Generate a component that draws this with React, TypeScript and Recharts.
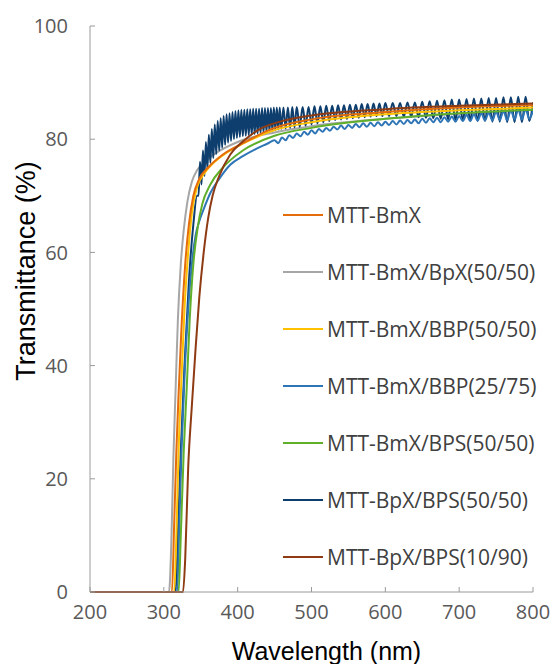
import React from 'react';
import { LineChart, Line, XAxis, YAxis, Legend } from 'recharts';

// wavelength (nm), transmittance (%)
const bmx = [
  [200, 0], [300, 0], [311, 0], [314, 12], [317, 25], [320, 35], [324, 47], [329, 58], [334, 65],
  [340, 70], [348, 73], [360, 75], [380, 77.3], [407, 79.3], [450, 82], [500, 83.5], [600, 84.8],
  [700, 85.6], [800, 86],
];

const bmxBpx5050 = [
  [200, 0], [300, 0], [307, 0], [310, 8], [313, 24], [316, 36], [319, 48], [323, 58], [327, 64],
  [332, 69], [338, 72.5], [345, 74.5], [355, 76], [370, 77.5], [400, 79.5], [450, 81.2], [500, 82.3],
  [600, 83.6], [700, 84.5], [800, 85.2],
];

const bmxBbp5050 = [
  [200, 0], [300, 0], [314, 0], [317, 10], [320, 25], [324, 38], [328, 50], [333, 60], [338, 67],
  [345, 71.5], [355, 74], [365, 75.5], [385, 77.6], [407, 79.2], [450, 81.6], [500, 83], [600, 84.4],
  [700, 85.1], [800, 85.6],
];

const bmxBbp2575 = [
  [200, 0], [300, 0], [318, 0], [321, 12], [324, 25], [328, 38], [333, 50], [338, 58], [343, 63],
  [348, 65.5], [355, 68], [363, 70.5], [375, 73], [390, 75.5], [407, 77], [425, 78.3], [440, 79.2],
  [450, 79.8], [455, 79.3], [460, 80.3], [465, 79.8], [470, 80.7], [475, 80.2], [480, 81], [485, 80.5],
  [490, 81.3], [495, 80.8], [500, 81.6], [505, 81], [510, 81.8], [515, 81.3], [520, 82], [525, 81.5],
  [530, 82.2], [535, 81.7], [540, 82.4], [545, 81.8], [550, 82.5], [555, 82], [560, 82.7], [565, 82.1],
  [570, 82.8], [575, 82.2], [580, 82.9], [585, 82.3], [590, 83], [595, 82.4], [600, 83.1], [605, 82.5],
  [610, 83.2], [615, 82.6], [620, 83.3], [625, 82.7], [630, 83.4], [635, 82.8], [640, 83.5], [645, 82.8],
  [650, 83.6], [655, 82.9], [660, 83.7], [665, 83], [670, 83.8], [675, 83], [680, 83.9], [685, 83.1],
  [690, 84], [695, 83.1], [700, 84.1], [705, 83.2], [710, 84.3], [715, 83.2], [720, 84.4], [725, 83.3],
  [730, 84.6], [735, 83.3], [740, 84.7], [745, 83.3], [750, 84.9], [755, 83.4], [760, 85], [765, 83.4],
  [770, 85.1], [775, 83.5], [780, 85.2], [785, 83.5], [790, 85.3], [795, 83.6], [800, 85],
];

const bmxBps5050 = [
  [200, 0], [300, 0], [320, 0], [323, 10], [327, 25], [331, 36], [335, 48], [340, 58], [346, 64.5],
  [352, 68.5], [363, 72], [380, 75], [407, 78], [450, 80.6], [500, 82], [600, 83.6], [700, 84.6],
  [800, 85.2],
];

// strong interference fringes
const bpxBps5050 = [
  [200, 0], [300, 0], [316, 0], [319, 10], [323, 25], [328, 40], [334, 55], [340, 65], [345, 70],
  [347, 70], [349, 76], [351, 72], [353, 78], [355, 73.5], [357, 79.5], [359, 74.8], [361, 80.8],
  [363, 75.8], [365, 81.8], [367, 76.7], [369, 82.6], [371, 77.4], [373, 83.2], [375, 78], [377, 83.7],
  [379, 78.5], [381, 84.1], [383, 79], [385, 84.4], [387, 79.4], [389, 84.6], [391, 79.7], [393, 84.8],
  [395, 80], [397, 85], [399, 80.2], [401, 85.1], [403, 80.4], [405, 85.2], [407, 80.5], [409, 85.2],
  [411, 80.6], [413, 85.3], [415, 80.7], [417, 85.3], [419, 80.8], [421, 85.4], [423, 80.9], [425, 85.4],
  [427, 81], [429, 85.4], [431, 81.1], [433, 85.5], [435, 81.2], [437, 85.5], [439, 81.3], [441, 85.5],
  [443, 81.4], [445, 85.5], [447, 81.5], [449, 85.6], [451, 81.6], [453, 85.6], [455, 81.7], [457, 85.6],
  [459, 81.8], [462, 85.6], [465, 81.9], [468, 85.6], [471, 82], [474, 85.7], [477, 82.1], [480, 85.7],
  [484, 82.2], [488, 85.7], [492, 82.4], [496, 85.7], [500, 82.6], [504, 85.8], [508, 82.8], [512, 85.8],
  [516, 83], [520, 85.9], [524, 83.2], [528, 85.9], [532, 83.4], [536, 86], [540, 83.5], [544, 86],
  [548, 83.6], [552, 86.1], [556, 83.7], [560, 86.1], [564, 83.8], [568, 86.2], [572, 83.9], [576, 86.2],
  [580, 84], [584, 86.3], [588, 84.1], [592, 86.3], [596, 84.1], [600, 86.4], [605, 84.1], [610, 86.4],
  [615, 84.1], [620, 86.4], [625, 84], [630, 86.5], [635, 84], [640, 86.5], [645, 83.9], [650, 86.6],
  [655, 83.8], [660, 86.7], [665, 83.7], [670, 86.8], [675, 83.6], [680, 86.9], [685, 83.5], [690, 87],
  [695, 83.4], [700, 87], [705, 83.3], [710, 87.1], [715, 83.3], [720, 87.2], [725, 83.2], [730, 87.2],
  [735, 83.2], [740, 87.3], [745, 83.1], [750, 87.3], [755, 83.1], [760, 87.4], [765, 83], [770, 87.4],
  [775, 83], [780, 87.5], [785, 83], [790, 87.5], [795, 83.2], [800, 86.5],
];

const bpxBps1090 = [
  [200, 0], [300, 0], [326, 0], [329, 6], [333, 22], [338, 33], [343, 43], [348, 52], [354, 60],
  [360, 66], [366, 70], [375, 73.5], [390, 77.3], [407, 79.6], [430, 81.8], [460, 83.2], [500, 84.2],
  [600, 85.3], [700, 85.9], [800, 86.3],
];

const xTicks = [200, 300, 400, 500, 600, 700, 800];
const yTicks = [0, 20, 40, 60, 80, 100];

// legend order
const series = [
  { name: 'MTT-BmX', data: bmx, color: '#E46C0A' },
  { name: 'MTT-BmX/BpX(50/50)', data: bmxBpx5050, color: '#A6A6A6' },
  { name: 'MTT-BmX/BBP(50/50)', data: bmxBbp5050, color: '#FFC000' },
  { name: 'MTT-BmX/BBP(25/75)', data: bmxBbp2575, color: '#2E75B6' },
  { name: 'MTT-BmX/BPS(50/50)', data: bmxBps5050, color: '#5FAF2A' },
  { name: 'MTT-BpX/BPS(50/50)', data: bpxBps5050, color: '#0D3E6E' },
  { name: 'MTT-BpX/BPS(10/90)', data: bpxBps1090, color: '#8E3A12' },
];

// draw order (grey and navy underneath)
const drawOrder = [1, 5, 3, 4, 2, 0, 6];

const toPoints = (rows: number[][]) => rows.map(([x, y]) => ({ x, y }));

const axisColor = '#9a9a9a';
const tickStyle = { fill: '#595959', fontSize: 20, fontFamily: '"Open Sans", sans-serif' };

const renderLegend = () => (
  <div style={{ fontFamily: '"Open Sans", sans-serif', fontSize: 21, color: '#404040' }}>
    {series.map((s) => (
      <div key={s.name} style={{ display: 'flex', alignItems: 'center', height: 57 }}>
        <svg width={40} height={4}>
          <line x1={0} y1={2} x2={40} y2={2} stroke={s.color} strokeWidth={2} />
        </svg>
        <span style={{ marginLeft: 4, whiteSpace: 'nowrap' }}>{s.name}</span>
      </div>
    ))}
  </div>
);

const YTitle = ({ viewBox }: any) => {
  const cx = viewBox.x + 26;
  const cy = viewBox.y + viewBox.height / 2 - 38;
  return (
    <text
      x={cx}
      y={cy}
      transform={`rotate(-90, ${cx}, ${cy})`}
      textAnchor="middle"
      dominantBaseline="central"
      fontSize={27}
      fontFamily='"Liberation Sans", Arial, sans-serif'
      fill="#000"
    >
      Transmittance (%)
    </text>
  );
};

export default function App() {
  return (
    <div style={{ position: 'absolute', left: 0, top: 0, background: '#fff' }}>
      <LineChart width={555} height={664} margin={{ top: 26, right: 22, bottom: 0, left: 0 }}>
        <XAxis
          type="number"
          dataKey="x"
          domain={[200, 800]}
          ticks={xTicks}
          allowDataOverflow
          height={72}
          stroke={axisColor}
          tickSize={-5}
          tickMargin={18}
          tick={tickStyle}
          label={{
            value: 'Wavelength (nm)',
            position: 'insideBottom',
            offset: 4,
            dx: 15,
            fill: '#000',
            fontSize: 25,
            fontFamily: '"Liberation Sans", Arial, sans-serif',
          }}
        />
        <YAxis
          type="number"
          dataKey="y"
          domain={[0, 100]}
          ticks={yTicks}
          width={90}
          stroke={axisColor}
          tickSize={-5}
          tickMargin={27}
          tick={tickStyle}
          label={{ content: YTitle }}
        />
        <Legend
          layout="vertical"
          align="center"
          verticalAlign="middle"
          content={renderLegend}
          wrapperStyle={{ left: 283, top: 186, width: 270, height: 400 }}
        />
        {drawOrder.map((i) => (
          <Line
            key={series[i].name}
            data={toPoints(series[i].data)}
            dataKey="y"
            name={series[i].name}
            type="monotone"
            stroke={series[i].color}
            strokeWidth={2}
            dot={false}
            isAnimationActive={false}
          />
        ))}
      </LineChart>
    </div>
  );
}
